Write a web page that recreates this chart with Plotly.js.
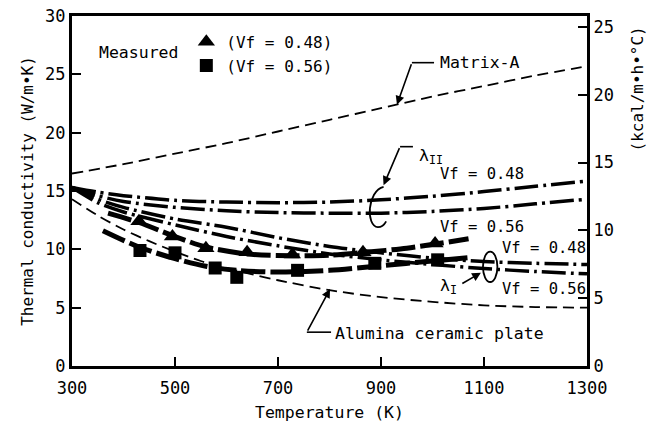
<!DOCTYPE html>
<html>
<head>
<meta charset="utf-8">
<script src="https://cdn.plot.ly/plotly-3.0.1.min.js"></script>
<style>html,body{margin:0;padding:0;background:#fff;}#chart{width:648px;height:425px;}</style>
</head>
<body>
<div id="chart"></div>
<script>
// ---- data ----
const matrixT = [300,400,500,600,700,800,900,1000,1100,1200,1300];
const matrixK = [16.5,17.3,18.2,19.1,20.1,21.1,22.1,23.1,24.0,24.9,25.7];

const aluminaT = [300,350,400,450,500,550,600,650,700,800,900,1000,1100,1200,1300];
const aluminaK = [14.3,12.9,11.7,10.7,9.8,9.0,8.4,7.85,7.35,6.5,5.9,5.5,5.2,5.05,5.0];

const lamT = [300,350,400,500,600,700,800,900,1000,1100,1200,1300];
const lamII48 = [15.3,14.9,14.6,14.2,14.05,14.0,14.05,14.25,14.55,14.95,15.4,15.85];
const lamII56 = [15.3,14.6,14.1,13.6,13.3,13.15,13.1,13.1,13.25,13.5,13.9,14.3];
const lamI48  = [15.3,14.3,13.6,12.6,11.9,11.0,10.25,9.7,9.25,8.95,8.8,8.7];
const lamI56  = [15.3,14.0,13.2,12.1,11.1,10.3,9.6,9.1,8.7,8.35,8.1,7.9];

const fit48T = [370,430,500,560,640,730,800,870,950,1005,1070];
const fit48K = [13.1,12.3,11.1,10.2,9.6,9.45,9.5,9.75,10.1,10.45,10.9];
const fit56T = [360,430,500,560,620,700,800,900,1000,1075];
const fit56K = [11.6,10.2,9.2,8.55,8.2,8.05,8.2,8.6,9.0,9.3];

const meas48T = [430,495,560,640,728,865,1005];
const meas48K = [12.4,11.1,10.1,9.75,9.55,9.75,10.5];
const meas56T = [432,500,578,620,738,888,1010];
const meas56K = [9.9,9.7,8.4,7.6,8.2,8.8,9.1];

const xTicks = [300,500,700,900,1100,1300];
const yTicks = [0,5,10,15,20,25,30];
const y2Ticks = [0,5,10,15,20,25];
const W_TO_KCAL = 0.86;

// ---- styles ----
const FONT = '"DejaVu Sans Mono", "Liberation Mono", monospace';
const dashDot = '24px,5px,3px,5px';
const thinDash = '11px,6px';
const thickDash = '24px,5px';

function line(x, y, width, dash, name) {
  return {x: x, y: y, type: 'scatter', mode: 'lines', name: name, showlegend: false,
    line: {color: '#000', width: width, dash: dash, shape: 'spline', smoothing: 0.8}, hoverinfo: 'skip'};
}

const traces = [
  line(matrixT, matrixK, 1.8, thinDash, 'Matrix-A'),
  line(aluminaT, aluminaK, 1.8, thinDash, 'Alumina ceramic plate'),
  line(lamT, lamII48, 3.5, dashDot, 'λII Vf=0.48'),
  line(lamT, lamII56, 3.5, dashDot, 'λII Vf=0.56'),
  line(lamT, lamI48, 3.5, dashDot, 'λI Vf=0.48'),
  line(lamT, lamI56, 3.5, dashDot, 'λI Vf=0.56'),
  line(fit48T, fit48K, 5, thickDash, 'fit 0.48'),
  line(fit56T, fit56K, 5, thickDash, 'fit 0.56'),
  {x: meas48T, y: meas48K, type: 'scatter', mode: 'markers', name: '(Vf = 0.48)',
   marker: {symbol: 'triangle-up', size: 15, color: '#000'}},
  {x: meas56T, y: meas56K, type: 'scatter', mode: 'markers', name: '(Vf = 0.56)',
   marker: {symbol: 'square', size: 13, color: '#000'}},
  // invisible trace to activate the right axis
  {x: [300,1300], y: [0, 30*W_TO_KCAL], yaxis: 'y2', type: 'scatter', mode: 'lines',
   line: {width: 0}, showlegend: false, hoverinfo: 'skip'}
];

const txt = (x, y, t, size, extra) => Object.assign({x: x, y: y, xref: 'x', yref: 'y', text: t,
  showarrow: false, xanchor: 'left', yanchor: 'middle', font: {family: FONT, size: size, color: '#000'}}, extra || {});
const arrow = (x, y, ax, ay) => ({x: x, y: y, ax: ax, ay: ay, xref: 'x', yref: 'y', axref: 'x', ayref: 'y',
  text: '', showarrow: true, arrowhead: 2, arrowsize: 1.1, arrowwidth: 1.6, arrowcolor: '#000'});

const annotations = [
  txt(349, 26.9, 'Measured', 16.5),
  txt(1011, 26.0, 'Matrix-A', 16.5),
  arrow(931, 22.4, 960, 26.0),
  txt(970, 18.0, 'λ<sub>II</sub>', 16.5),
  arrow(905, 15.5, 937, 18.8),
  txt(1011, 16.5, 'Vf = 0.48', 15.5),
  txt(1011, 11.9, 'Vf = 0.56', 15.5),
  txt(1131, 10.1, 'Vf = 0.48', 15.5),
  txt(1131, 6.6, 'Vf = 0.56', 15.5),
  txt(1011, 6.8, 'λ<sub>I</sub>', 16.5),
  arrow(1094, 8.0, 1055, 7.0),
  txt(807, 2.8, 'Alumina ceramic plate', 16.5),
  arrow(801, 6.6, 756, 2.9),
  {x: 1, y: 0.79, xref: 'paper', yref: 'paper', xanchor: 'center', yanchor: 'middle', xshift: 50,
   text: '(kcal/m•h•°C)', textangle: -90, showarrow: false, font: {family: FONT, size: 16, color: '#000'}}
];

const shapes = [
  {type: 'line', xref: 'x', yref: 'y', x0: 960, y0: 26.0, x1: 1003, y1: 26.0, line: {color: '#000', width: 1.6}},
  {type: 'line', xref: 'x', yref: 'y', x0: 937, y0: 18.8, x1: 962, y1: 18.8, line: {color: '#000', width: 1.6}},
  {type: 'line', xref: 'x', yref: 'y', x0: 756, y0: 2.9, x1: 803, y1: 2.9, line: {color: '#000', width: 1.6}},
  {type: 'path', xref: 'x', yref: 'y', path: 'M905,15.35 C873,15.0 870,12.0 894,11.9 Q904,11.9 910,12.4',
   line: {color: '#000', width: 1.8}},
  {type: 'circle', xref: 'x', yref: 'y', x0: 1098, x1: 1126, y0: 7.2, y1: 9.8, line: {color: '#000', width: 1.8}}
];

const axisCommon = {showgrid: false, zeroline: false, ticks: 'inside', ticklen: 9, tickwidth: 2,
  tickcolor: '#000', showline: true, linecolor: '#000', linewidth: 3,
  tickfont: {family: FONT, size: 17, color: '#000'}};

const layout = {
  width: 648, height: 425,
  margin: {l: 72, r: 61, t: 16, b: 59},
  paper_bgcolor: '#fff', plot_bgcolor: '#fff',
  showlegend: true,
  legend: {x: 0.222, y: 0.975, xanchor: 'left', yanchor: 'top', bgcolor: 'rgba(0,0,0,0)',
    font: {family: FONT, size: 16, color: '#000'}, itemclick: false, tracegroupgap: 0},
  xaxis: Object.assign({}, axisCommon, {range: [300, 1300], tickvals: xTicks, mirror: true,
    ticklabelstandoff: 5,
    title: {text: 'Temperature (K)', font: {family: FONT, size: 16.5, color: '#000'}, standoff: 10}}),
  yaxis: Object.assign({}, axisCommon, {range: [0, 30], tickvals: yTicks, mirror: true,
    title: {text: 'Thermal conductivity (W/m•K)', font: {family: FONT, size: 16, color: '#000'}, standoff: 8}}),
  yaxis2: Object.assign({}, axisCommon, {overlaying: 'y', side: 'right', range: [0, 30*W_TO_KCAL],
    tickvals: y2Ticks}),
  annotations: annotations,
  shapes: shapes
};

Plotly.newPlot('chart', traces, layout, {displayModeBar: false, staticPlot: true});
</script>
</body>
</html>
